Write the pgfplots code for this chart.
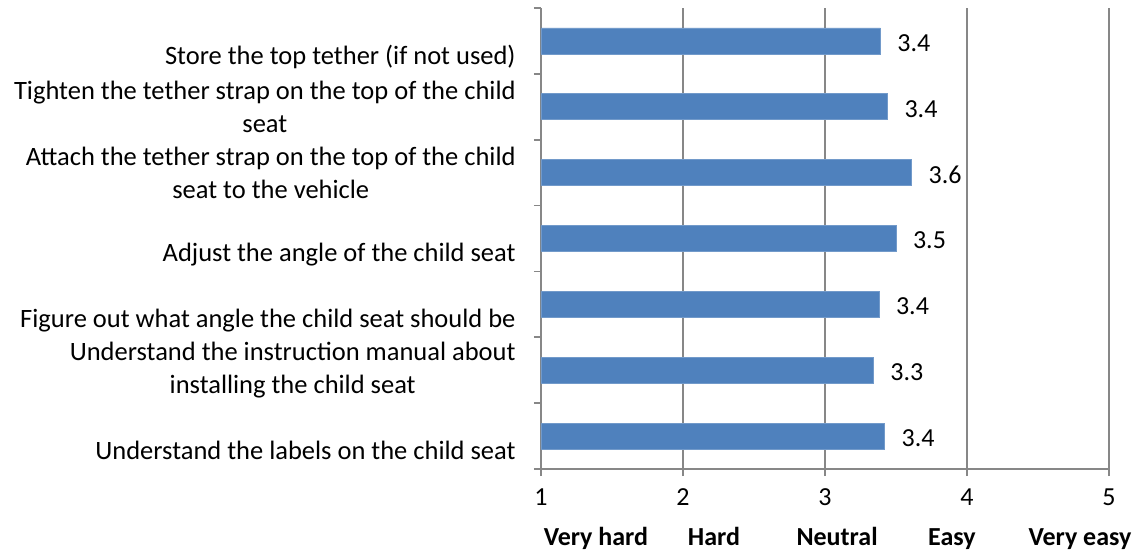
\documentclass[border=0pt]{standalone}
\usepackage{fontspec}
\setmainfont{Carlito}
\usepackage{pgfplots}
\pgfplotsset{compat=1.18}
\definecolor{barblue}{HTML}{4F81BD}
\definecolor{gridgray}{HTML}{878787}
\begin{document}
\begin{tikzpicture}
\begin{axis}[
  xbar,
  scale only axis,
  width=284pt, height=230.5pt,
  xmin=1, xmax=5, ymin=-0.5, ymax=6.5,
  axis lines*=left,
  axis line style={gridgray, line width=0.8pt},
  xmajorgrids,
  grid style={gridgray, line width=0.8pt},
  tick style={gridgray, line width=0.8pt},
  major tick length=3.5pt,
  tick align=outside,
  xtick={1,2,3,4,5},
  /pgf/number format/assume math mode=true,
  xticklabel style={font=\fontsize{13}{16}\selectfont, yshift=-3pt},
  ytick={-0.5,0.5,...,6.5},
  yticklabels={
    {\strut\\Understand the labels on the child seat\strut},
    {Understand the instruction manual about\\installing the child seat},
    {\strut\\Figure out what angle the child seat should be\strut},
    {\strut\\Adjust the angle of the child seat\strut},
    {Attach the tether strap on the top of the child\\seat to the vehicle},
    {Tighten the tether strap on the top of the child\\seat},
    {\strut\\Store the top tether (if not used)\strut},
    {}},
  yticklabel style={align=center, font=\fontsize{13.25}{16.5}\selectfont, inner sep=0pt, anchor=east, yshift=16.46pt, xshift=-9pt},
  bar width=13pt,
  bar shift=0pt,
  point meta=x,
  nodes near coords,
  nodes near coords style={/pgf/number format/fixed, /pgf/number format/fixed zerofill, /pgf/number format/precision=1, font=\fontsize{13}{16}\selectfont, black, xshift=5pt, yshift=-1pt},
]
\addplot[fill=barblue, draw=barblue!80!white] coordinates {
  (3.42,0) (3.34,1) (3.38,2) (3.50,3) (3.61,4) (3.44,5) (3.39,6)};
\coordinate (O) at (axis cs:1,-0.5);
\coordinate (L1) at (axis cs:1.387,-0.5);
\coordinate (L2) at (axis cs:2.218,-0.5);
\coordinate (L3) at (axis cs:3.085,-0.5);
\coordinate (L4) at (axis cs:3.894,-0.5);
\coordinate (L5) at (axis cs:4.796,-0.5);
\end{axis}
\begin{scope}[every node/.style={anchor=base, font=\fontsize{13}{16}\selectfont\bfseries, inner sep=0pt}]
\node at ([yshift=-38pt]L1) {Very hard};
\node at ([yshift=-38pt]L2) {Hard};
\node at ([yshift=-38pt]L3) {Neutral};
\node at ([yshift=-38pt]L4) {Easy};
\node at ([yshift=-38pt]L5) {Very easy};
\end{scope}
\pgfresetboundingbox
\path[use as bounding box] ([xshift=-270.5pt,yshift=-42.5pt]O) rectangle ++(569pt,277pt);
\end{tikzpicture}
\end{document}
